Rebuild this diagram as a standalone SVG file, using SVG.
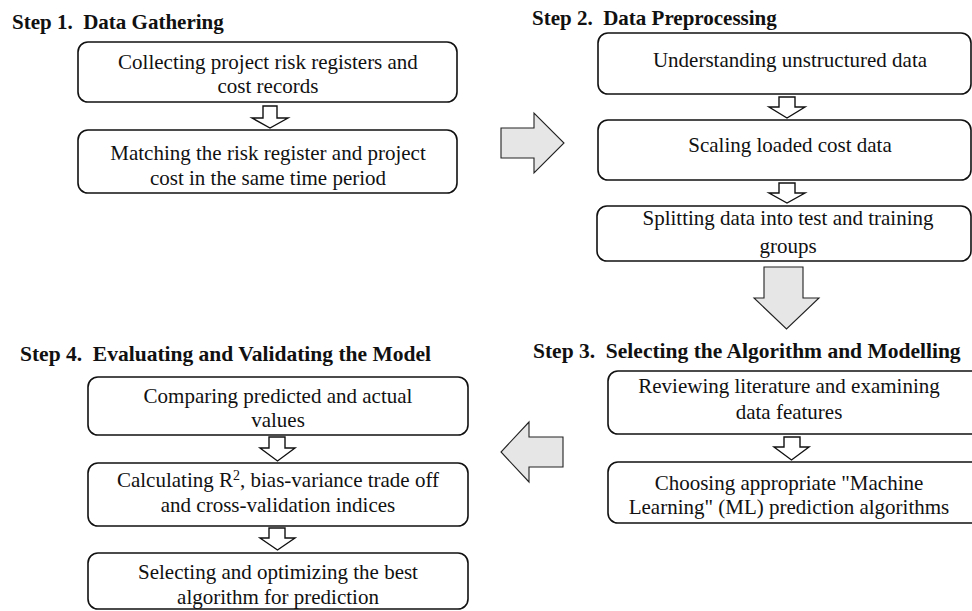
<svg xmlns="http://www.w3.org/2000/svg" width="972" height="611" viewBox="0 0 972 611">
<defs>
<style>
.title{font-family:"Liberation Serif","Times New Roman",serif;font-weight:bold;font-size:21px;fill:#111}
.title2{font-size:21.5px}
.txt{font-family:"Liberation Serif","Times New Roman",serif;font-size:21px;fill:#111;text-anchor:middle}
.box{fill:#fff;stroke:#111;stroke-width:1.6}
.small{fill:#fff;stroke:#111;stroke-width:1.4;stroke-linejoin:miter}
.big{fill:#e6e6e6;stroke:#222;stroke-width:1.1}
</style>
</defs>
<rect width="972" height="611" fill="#fff"/>

<g id="step1">
<text class="title" x="12" y="29" xml:space="preserve">Step 1.  Data Gathering</text>
<g id="s1b1"><rect class="box" x="78" y="42" width="379" height="60" rx="10"/>
<text class="txt" x="268" y="69">Collecting project risk registers and</text>
<text class="txt" x="268" y="93">cost records</text></g>
<g id="s1b2"><rect class="box" x="78" y="130" width="379" height="63" rx="10"/>
<text class="txt" x="268" y="160">Matching the risk register and project</text>
<text class="txt" x="268" y="185">cost in the same time period</text></g>
</g>

<g id="step2">
<text class="title" x="532" y="25" xml:space="preserve">Step 2.  Data Preprocessing</text>
<g id="s2b1"><rect class="box" x="598" y="33" width="373" height="61" rx="10"/>
<text class="txt" x="790" y="67">Understanding unstructured data</text></g>
<g id="s2b2"><rect class="box" x="598" y="120" width="373" height="60" rx="10"/>
<text class="txt" x="790" y="152">Scaling loaded cost data</text></g>
<g id="s2b3"><rect class="box" x="597" y="206" width="374" height="55" rx="10"/>
<text class="txt" x="788" y="225">Splitting data into test and training</text>
<text class="txt" x="788" y="253">groups</text></g>
</g>

<g id="step3">
<text class="title title2" x="533" y="358" xml:space="preserve">Step 3.  Selecting the Algorithm and Modelling</text>
<g id="s3b1"><rect class="box" x="608" y="371" width="390" height="63" rx="10"/>
<text class="txt" x="789" y="393">Reviewing literature and examining</text>
<text class="txt" x="789" y="419">data features</text></g>
<g id="s3b2"><rect class="box" x="608" y="462" width="390" height="61" rx="10"/>
<text class="txt" x="789" y="490">Choosing appropriate "Machine</text>
<text class="txt" x="789" y="514">Learning" (ML) prediction algorithms</text></g>
</g>

<g id="step4">
<text class="title title2" x="20" y="361" xml:space="preserve">Step 4.  Evaluating and Validating the Model</text>
<g id="s4b1"><rect class="box" x="88" y="377" width="380" height="58" rx="10"/>
<text class="txt" x="278" y="403">Comparing predicted and actual</text>
<text class="txt" x="278" y="427">values</text></g>
<g id="s4b2"><rect class="box" x="88" y="463" width="380" height="63" rx="10"/>
<text class="txt" x="278" y="487">Calculating R<tspan font-size="14" dy="-7">2</tspan><tspan dy="7">, bias-variance trade off</tspan></text>
<text class="txt" x="278" y="512">and cross-validation indices</text></g>
<g id="s4b3"><rect class="box" x="88" y="553" width="380" height="56" rx="10"/>
<text class="txt" x="278" y="579">Selecting and optimizing the best</text>
<text class="txt" x="278" y="604">algorithm for prediction</text></g>
</g>

<g id="connectors">
<path class="small" d="M263,106 H277 V118 H288 L270,128 L252,118 H263 Z"/>
<path class="small" d="M779,97 H795 V107 H805 L787,118 L769,107 H779 Z"/>
<path class="small" d="M779,183 H795 V193 H805 L787,203 L769,193 H779 Z"/>
<path class="small" d="M784,437 H800 V447 H809 L791.5,460 L774,447 H784 Z"/>
<path class="small" d="M269,437 H285 V448 H295 L277.5,461 L260,448 H269 Z"/>
<path class="small" d="M269,528 H285 V538 H295 L277.5,550 L260,538 H269 Z"/>
<path class="big" d="M501,128 H534 V113 L564,143 L534,173 V158 H501 Z"/>
<path class="big" d="M764,267 H803 V298 H819 L786.5,329 L754,298 H764 Z"/>
<path class="big" d="M563,437 H529 V422 L501,452 L529,482 V467 H563 Z"/>
</g>
</svg>
